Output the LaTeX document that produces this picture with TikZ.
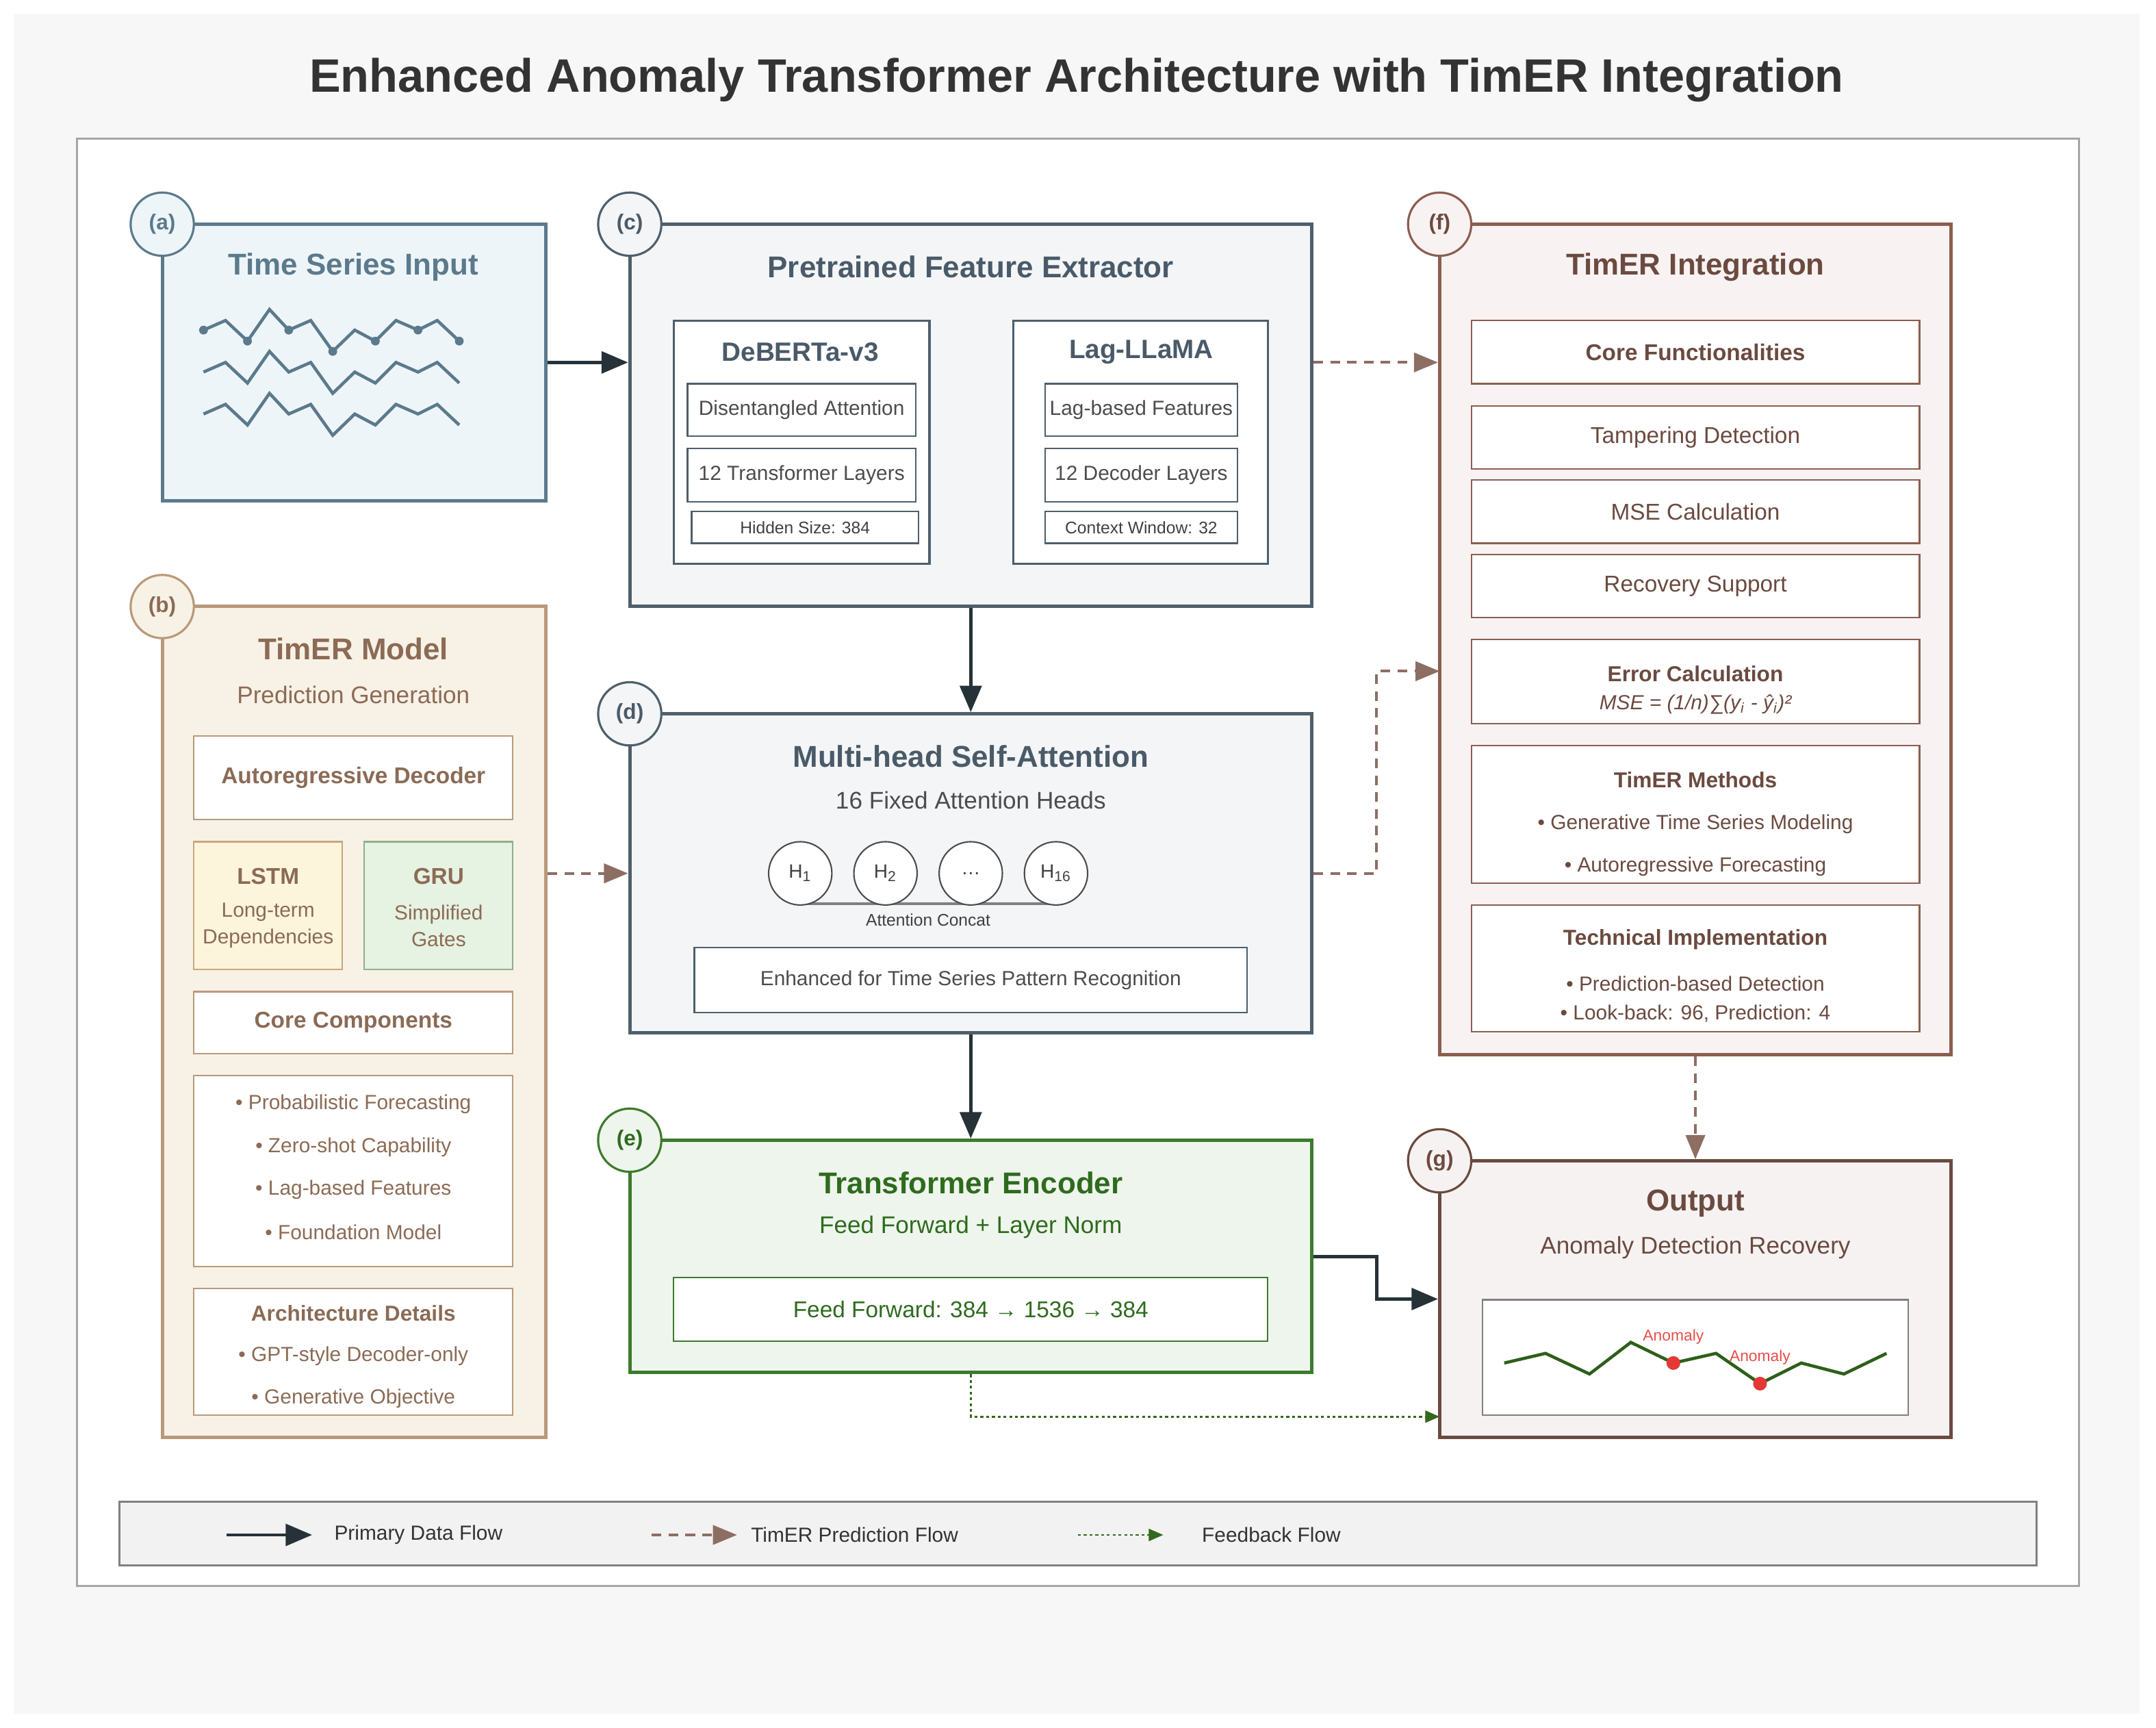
\documentclass[tikz,border=0pt]{standalone}
\usepackage{fontspec}
\setmainfont{Liberation Sans}
\usetikzlibrary{arrows.meta,fit,positioning}
\definecolor{bgc}{HTML}{F7F7F7}
\definecolor{slate}{HTML}{4F5F6B}
\definecolor{slatet}{HTML}{4A5A68}
\definecolor{afill}{HTML}{EEF5F9}
\definecolor{astroke}{HTML}{5B7A8C}
\definecolor{cfill}{HTML}{F3F5F7}
\definecolor{bfill}{HTML}{F8F1E6}
\definecolor{bstroke}{HTML}{B89A7A}
\definecolor{btext}{HTML}{8B6B55}
\definecolor{lfill}{HTML}{FDF4DC}
\definecolor{lstroke}{HTML}{C9A87A}
\definecolor{gfill}{HTML}{E6F2E2}
\definecolor{gstroke}{HTML}{8FB08A}
\definecolor{efill}{HTML}{EEF5EC}
\definecolor{estroke}{HTML}{3D7A2E}
\definecolor{etext}{HTML}{2E6B1E}
\definecolor{ffill}{HTML}{F8F3F2}
\definecolor{fstroke}{HTML}{8B5E50}
\definecolor{ftext}{HTML}{6B4A40}
\definecolor{gofill}{HTML}{F6F2F2}
\definecolor{gostroke}{HTML}{6B4A40}
\definecolor{arrdark}{HTML}{263238}
\definecolor{arrbrown}{HTML}{8D6E63}
\definecolor{arrgreen}{HTML}{33691E}
\definecolor{anom}{HTML}{E53935}
\newcommand{\fs}[1]{\fontsize{#1pt}{\dimexpr #1pt*6/5\relax}\selectfont}
\newcommand{\bx}[6]{\node[fit={(#2,#3) (#4,#5)}, inner sep=0pt, draw, #6] (#1) {};}
\tikzset{
  x=0.2009mm, y=-0.2009mm,
  big/.style={line width=1.4pt},
  small/.style={line width=0.6pt, fill=white},
  lbl/.style={circle, minimum size=9.24mm, inner sep=0pt, line width=0.9pt, font=\bfseries\fs{9}},
  head/.style={circle, draw=black!70, fill=white, minimum size=9.24mm, inner sep=0pt, line width=0.6pt, font=\fs{8}, text=black!75},
  ttl/.style={font=\bfseries\fs{12.5}},
  sub/.style={font=\fs{10}},
  txt/.style={font=\fs{8.5}},
  tiny/.style={font=\fs{7}},
  solid arrow/.style={draw=arrdark, line width=1.4pt, -{Triangle[length=11pt,width=9pt]}},
  dash arrow/.style={draw=arrbrown, line width=1.1pt, dash pattern=on 4pt off 3pt, -{Triangle[length=10pt,width=8pt]}},
  dot arrow/.style={draw=arrgreen, line width=0.8pt, dash pattern=on 1.2pt off 1.2pt, -{Triangle[length=6pt,width=5pt]}},
}
\begin{document}
\begin{tikzpicture}
\useasboundingbox (0,0) rectangle (1568,1256);
\fill[white] (0,0) rectangle (1568,1256);
\fill[bgc] (10,10) rectangle (1556,1246);
\node[font=\bfseries\fs{19.5}, text=black!80] (title) at (783,58) {Enhanced Anomaly Transformer Architecture with TimER Integration};
\bx{frame}{56}{101}{1512}{1153}{fill=white, draw=gray!70, line width=0.9pt}

% (a)
\bx{a}{118}{163}{397}{364}{big, fill=afill, draw=astroke}
\node[ttl, text=astroke] (at) at (257,194) {Time Series Input};
\foreach \d in {0,30.5,61}{
  \draw[astroke, line width=1.3pt, line join=miter] (148,240+\d) -- (164,233+\d) -- (180,248+\d) -- (196,225+\d) -- (210,240+\d) -- (226,233+\d) -- (242,255.5+\d) -- (258,240+\d) -- (273,248+\d) -- (288,233+\d) -- (304,240+\d) -- (318,233+\d) -- (334,248+\d);
}
\foreach \p in {(148,240),(180,248),(210,240),(242,255.5),(273,248),(304,240),(334,248)}
  \fill[astroke] \p circle (3.2);
\node[lbl, draw=astroke, fill=afill, text=astroke] (la) at (118,163) {(a)};

% (c)
\bx{c}{458}{163}{954}{441}{big, fill=cfill, draw=slate}
\node[ttl, text=slatet] (ct) at (706,194) {Pretrained Feature Extractor};
\bx{deb}{490}{233}{676}{410}{small, draw=slate, line width=0.9pt}
\node[font=\bfseries\fs{11}, text=slatet] (debt) at (582,256) {DeBERTa-v3};
\bx{deb1}{500}{279}{666}{317}{small, draw=slate}
\node[txt, text=black!70] at (deb1) {Disentangled Attention};
\bx{deb2}{500}{326}{666}{365}{small, draw=slate}
\node[txt, text=black!70] at (deb2) {12 Transformer Layers};
\bx{deb3}{503}{372}{668}{395}{small, draw=slate}
\node[tiny, text=black!75] at (deb3) {Hidden Size: 384};
\bx{lag}{737}{233}{922}{410}{small, draw=slate, line width=0.9pt}
\node[font=\bfseries\fs{11}, text=slatet] (lagt) at (830,256) {Lag-LLaMA};
\bx{lag1}{760}{279}{900}{317}{small, draw=slate}
\node[txt, text=black!70] at (lag1) {Lag-based Features};
\bx{lag2}{760}{326}{900}{365}{small, draw=slate}
\node[txt, text=black!70] at (lag2) {12 Decoder Layers};
\bx{lag3}{760}{372}{900}{395}{small, draw=slate}
\node[tiny, text=black!75] at (lag3) {Context Window: 32};
\node[lbl, draw=slate, fill=cfill, text=slatet] (lc) at (458,163) {(c)};

% (b)
\bx{b}{118}{441}{397}{1045}{big, fill=bfill, draw=bstroke}
\node[ttl, text=btext] at (257,472) {TimER Model};
\node[sub, text=btext] at (257,505) {Prediction Generation};
\bx{b1}{141}{535}{373}{596}{small, draw=bstroke}
\node[font=\bfseries\fs{9.5}, text=btext] at (b1) {Autoregressive Decoder};
\bx{lstm}{141}{612}{249}{705}{small, fill=lfill, draw=lstroke}
\node[font=\bfseries\fs{9.5}, text=btext] at (195,637) {LSTM};
\node[txt, text=btext, align=center] at (195,673) {Long-term\\[1pt]Dependencies};
\bx{gru}{265}{612}{373}{705}{small, fill=gfill, draw=gstroke}
\node[font=\bfseries\fs{9.5}, text=btext] at (319,637) {GRU};
\node[txt, text=btext, align=center] at (319,673) {Simplified\\[1pt]Gates};
\bx{b2}{141}{721}{373}{766}{small, draw=bstroke}
\node[font=\bfseries\fs{9.5}, text=btext] at (b2) {Core Components};
\bx{b3}{141}{782}{373}{921}{small, draw=bstroke}
\node[txt, text=btext] at (257,803) {• Probabilistic Forecasting};
\node[txt, text=btext] at (257,834) {• Zero-shot Capability};
\node[txt, text=btext] at (257,865) {• Lag-based Features};
\node[txt, text=btext] at (257,896) {• Foundation Model};
\bx{b4}{141}{937}{373}{1029}{small, draw=bstroke}
\node[font=\bfseries\fs{9}, text=btext] at (257,955) {Architecture Details};
\node[txt, text=btext] at (257,986) {• GPT-style Decoder-only};
\node[txt, text=btext] at (257,1017) {• Generative Objective};
\node[lbl, draw=bstroke, fill=bfill, text=btext] (lb) at (118,441) {(b)};

% (d)
\bx{d}{458}{519}{954}{751}{big, fill=cfill, draw=slate}
\node[ttl, text=slatet] at (706,550) {Multi-head Self-Attention};
\node[sub, text=black!70] at (706,582) {16 Fixed Attention Heads};
\draw[gray, line width=1pt] (582,657) -- (768,657);
\node[head] (h1) at (582,635) {H\textsubscript{1}};
\node[head] (h2) at (644,635) {H\textsubscript{2}};
\node[head] (h3) at (706,635) {\ldots};
\node[head] (h16) at (768,635) {H\textsubscript{16}};
\node[tiny, text=black!75] at (675,669) {Attention Concat};
\bx{d1}{505}{689}{907}{736}{small, draw=slate}
\node[txt, text=black!70] at (d1) {Enhanced for Time Series Pattern Recognition};
\node[lbl, draw=slate, fill=cfill, text=slatet] (ld) at (458,519) {(d)};

% (e)
\bx{e}{458}{829}{954}{998}{big, fill=efill, draw=estroke}
\node[ttl, text=etext] at (706,860) {Transformer Encoder};
\node[sub, text=etext] at (706,892) {Feed Forward + Layer Norm};
\bx{e1}{490}{929}{922}{975}{small, draw=estroke}
\node[font=\fs{9.5}, text=etext] at (e1) {Feed Forward: 384 → 1536 → 384};
\node[lbl, draw=estroke, fill=efill, text=etext] (le) at (458,829) {(e)};

% (f)
\bx{f}{1047}{163}{1419}{767}{big, fill=ffill, draw=fstroke}
\node[ttl, text=ftext] at (1233,194) {TimER Integration};
\bx{f1}{1070}{233}{1396}{279}{small, draw=fstroke}
\node[font=\bfseries\fs{9.5}, text=ftext] at (f1) {Core Functionalities};
\bx{f2}{1070}{295}{1396}{341}{small, draw=fstroke}
\node[font=\fs{9.5}, text=ftext] at (f2) {Tampering Detection};
\bx{f3}{1070}{349}{1396}{395}{small, draw=fstroke}
\node[font=\fs{9.5}, text=ftext] at (f3) {MSE Calculation};
\bx{f4}{1070}{403}{1396}{449}{small, draw=fstroke}
\node[font=\fs{9.5}, text=ftext] at (f4) {Recovery Support};
\bx{f5}{1070}{465}{1396}{526}{small, draw=fstroke}
\node[font=\bfseries\fs{9}, text=ftext] at (1233,490) {Error Calculation};
\node[font=\itshape\fs{8.5}, text=ftext] at (1233,512) {MSE = (1/n)∑(y\textsubscript{i} - ŷ\textsubscript{i})²};
\bx{f6}{1070}{542}{1396}{642}{small, draw=fstroke}
\node[font=\bfseries\fs{9}, text=ftext] at (1233,567) {TimER Methods};
\node[txt, text=ftext] at (1233,599) {• Generative Time Series Modeling};
\node[txt, text=ftext] at (1233,630) {• Autoregressive Forecasting};
\bx{f7}{1070}{658}{1396}{750}{small, draw=fstroke}
\node[font=\bfseries\fs{9}, text=ftext] at (1233,683) {Technical Implementation};
\node[txt, text=ftext] at (1233,715) {• Prediction-based Detection};
\node[txt, text=ftext] at (1233,737) {• Look-back: 96, Prediction: 4};
\node[lbl, draw=fstroke, fill=ffill, text=ftext] (lf) at (1047,163) {(f)};

% (g)
\bx{g}{1047}{844}{1419}{1045}{big, fill=gofill, draw=gostroke}
\node[ttl, text=gostroke] at (1233,875) {Output};
\node[sub, text=gostroke] at (1233,907) {Anomaly Detection Recovery};
\bx{g1}{1078}{945}{1388}{1029}{small, draw=gray}
\draw[arrgreen!90!black, line width=1.3pt] (1094,991) -- (1124,984) -- (1156,999) -- (1186,976) -- (1217,991) -- (1248,984) -- (1280,1006) -- (1310,991) -- (1341,999) -- (1372,984);
\fill[anom] (1217,991) circle (5);
\fill[anom] (1280,1006) circle (5);
\node[font=\fs{6.5}, text=anom!90] at (1217,972) {Anomaly};
\node[font=\fs{6.5}, text=anom!90] at (1280,987) {Anomaly};
\node[lbl, draw=gostroke, fill=gofill, text=gostroke] (lg) at (1047,844) {(g)};

% connectors
\draw[solid arrow] (a.east) -- (a.east -| c.west);
\draw[solid arrow] (c.south) -- (d.north);
\draw[solid arrow] (d.south) -- (e.north);
\draw[solid arrow] (e.east) -- ++(46,0) |- (g.west);
\draw[dash arrow] (a.east -| c.east) -- (a.east -| f.west);
\draw[dash arrow] (d.west -| b.east) -- (d.west);
\coordinate (fin) at (1047,488);
\draw[dash arrow] (d.east) -- ++(46,0) |- (fin);
\draw[dash arrow] (f.south) -- (g.north);
\coordinate (gin) at (1047,1030);
\draw[dot arrow] (e.south) |- (gin);

% legend
\bx{leg}{87}{1092}{1481}{1138}{fill=black!5, draw=gray, line width=0.8pt}
\coordinate (l1a) at (165,1116); \coordinate (l1b) at (227,1116);
\draw[solid arrow] (l1a) -- (l1b);
\node[txt, text=black!80, anchor=west] at (237,1116) {Primary Data Flow};
\coordinate (l2a) at (474,1116); \coordinate (l2b) at (536,1116);
\draw[dash arrow] (l2a) -- (l2b);
\node[txt, text=black!80, anchor=west] at (540,1116) {TimER Prediction Flow};
\coordinate (l3a) at (784,1116); \coordinate (l3b) at (846,1116);
\draw[dot arrow] (l3a) -- (l3b);
\node[txt, text=black!80, anchor=west] at (868,1116) {Feedback Flow};
\end{tikzpicture}
\end{document}
